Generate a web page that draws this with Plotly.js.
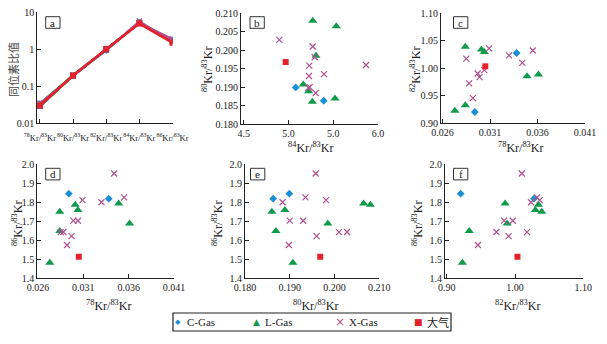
<!DOCTYPE html>
<html><head><meta charset="utf-8">
<script src="https://cdn.plot.ly/plotly-3.0.1.min.js"></script>
<style>html,body{margin:0;padding:0;background:#fff}#chart{width:607px;height:344px}</style>
</head><body><div id="chart"></div>
<script>
// ---- data (ratios relative to 83Kr) ----
const ratioCats = ['78Kr/83Kr','80Kr/83Kr','82Kr/83Kr','84Kr/83Kr','86Kr/83Kr'];
const ratioLabels = ['<sup>78</sup>Kr/<sup>83</sup>Kr','<sup>80</sup>Kr/<sup>83</sup>Kr','<sup>82</sup>Kr/<sup>83</sup>Kr','<sup>84</sup>Kr/<sup>83</sup>Kr','<sup>86</sup>Kr/<sup>83</sup>Kr'];

const cGas78 = [0.0294, 0.0338];
const cGas80 = [0.1899, 0.1863];
const cGas82 = [0.9205, 1.0278];
const cGas84 = [5.081, 5.394];
const cGas86 = [1.844, 1.818];

const lGas78 = [0.0273, 0.0284, 0.0361, 0.0284, 0.0304, 0.0301, 0.0349];
const lGas80 = [0.1907, 0.1869, 0.1985, 0.1860, 0.1889, 0.2080, 0.2065];
const lGas82 = [0.9230, 0.9330, 0.9885, 1.0392, 1.0298, 1.0344, 0.9855];
const lGas84 = [5.166, 5.520, 5.308, 5.266, 5.226, 5.271, 5.534];
const lGas86 = [1.481, 1.648, 1.688, 1.750, 1.759, 1.786, 1.793];

const xGas78 = [0.0344, 0.0355, 0.0309, 0.0330, 0.0299, 0.0304, 0.0285, 0.0288, 0.0297, 0.0292];
const xGas80 = [0.1958, 0.1935, 0.1981, 0.1884, 0.1900, 0.1930, 0.2010, 0.2028, 0.1960, 0.1898];
const xGas82 = [1.0100, 1.0323, 1.0362, 1.0235, 0.9840, 0.9968, 1.0175, 0.9727, 0.9906, 0.9457];
const xGas84 = [5.233, 5.397, 5.293, 5.304, 5.237, 5.229, 5.271, 4.898, 5.866, 5.222];
const xGas86 = [1.950, 1.825, 1.810, 1.799, 1.703, 1.702, 1.642, 1.643, 1.621, 1.575];

const air78 = [0.0305];
const air80 = [0.1968];
const air82 = [1.0036];
const air84 = [4.969];
const air86 = [1.513];

const bTickVals = [4.5, 5.0, 5.5, 6.0];
const bTickText = ['4.5', '5.0', '5.0', '6.0'];

// ---- styles ----
const W = 607, H = 344;
const px = v => v / W, py = v => 1 - v / H;
const SERIF = 'Liberation Serif, Times New Roman, serif';
const groups = [
  {name:'C-Gas', color:'#1b8fd6', sym:'diamond', size:6, d:[cGas78,cGas80,cGas82,cGas84,cGas86]},
  {name:'L-Gas', color:'#0f9a4a', sym:'triangle-up', size:8, d:[lGas78,lGas80,lGas82,lGas84,lGas86]},
  {name:'X-Gas', color:'#b0508e', sym:'x-thin', size:6, d:[xGas78,xGas80,xGas82,xGas84,xGas86]},
  {name:'大气', color:'#e62129', sym:'square', size:6, d:[air78,air80,air82,air84,air86]}
];
function mk(g, sz){
  const m = {symbol:g.sym, size:sz||g.size, color:g.color};
  if (g.sym === 'x-thin') m.line = {color:g.color, width:1.2};
  return m;
}

const traces = [];
// panel a lines (draw L, C, X, then air on top)
[1,0,2,3].forEach(gi => {
  const g = groups[gi];
  const n = g.d[0].length;
  for (let i = 0; i < n; i++) {
    traces.push({
      type:'scatter', mode:'lines+markers', xaxis:'x', yaxis:'y',
      x: ratioCats, y: g.d.map(arr => arr[i]), name:g.name, showlegend:false,
      line:{color:g.color, width: gi===3 ? 2.6 : 1.4},
      marker: mk(g, gi===3 ? 6 : 5), hoverinfo:'skip'
    });
  }
});
// scatter panels: [xIndex, yIndex, axis suffix]
const panels = [[3,1,'2'],[0,2,'3'],[0,4,'4'],[1,4,'5'],[2,4,'6']];
panels.forEach(([xi, yi, ax]) => {
  groups.forEach(g => {
    traces.push({
      type:'scatter', mode:'markers', xaxis:'x'+ax, yaxis:'y'+ax,
      x:g.d[xi], y:g.d[yi], name:g.name, showlegend:false,
      marker: mk(g), cliponaxis:false
    });
  });
});

const axBase = {
  showline:true, linecolor:'#222', linewidth:1, ticks:'inside', ticklen:4, tickcolor:'#222',
  showgrid:false, zeroline:false, mirror:false, tickangle:0,
  tickfont:{family:SERIF, size:10, color:'#222'}
};
const A = o => Object.assign({}, axBase, o);

const layout = {
  width:W, height:H, margin:{l:0,r:0,t:0,b:0}, paper_bgcolor:'#fff', plot_bgcolor:'#fff',
  showlegend:false, font:{family:SERIF, color:'#222'},
  xaxis: A({domain:[px(37.3), px(172.5)], anchor:'y', type:'category', categoryarray:ratioCats,
            range:[-0.08, 4.0], tickvals:ratioCats, ticktext:ratioLabels, tickangle:0, ticklabelstandoff:6,
            tickfont:{family:SERIF,size:8.5,color:'#222'}}),
  yaxis: A({domain:[py(123.3), py(12.3)], anchor:'x', type:'log', range:[-2, 1],
            tickvals:[0.01,0.1,1,10], ticktext:['0.01','0.1','1','10']}),
  xaxis2: A({domain:[px(241), px(378)], anchor:'y2', range:[4.47, 6.0], tickvals:bTickVals, ticktext:bTickText}),
  yaxis2: A({domain:[py(124), py(13.3)], anchor:'x2', range:[0.18, 0.21], dtick:0.005, tick0:0.18, tickformat:'.3f'}),
  xaxis3: A({domain:[px(441), px(585)], anchor:'y3', range:[0.02584, 0.041], tickvals:[0.026,0.031,0.036,0.041], tickformat:'.3f'}),
  yaxis3: A({domain:[py(123.3), py(13.3)], anchor:'x3', range:[0.9, 1.1], dtick:0.05, tick0:0.9, tickformat:'.2f'}),
  xaxis4: A({domain:[px(37.3), px(174)], anchor:'y4', range:[0.02592, 0.041], tickvals:[0.026,0.031,0.036,0.041], tickformat:'.3f'}),
  yaxis4: A({domain:[py(278.3), py(164)], anchor:'x4', range:[1.4, 2.0], dtick:0.1, tick0:1.4, tickformat:'.1f'}),
  xaxis5: A({domain:[px(245), px(379.3)], anchor:'y5', range:[0.18, 0.21], tickvals:[0.18,0.19,0.2,0.21], tickformat:'.3f'}),
  yaxis5: A({domain:[py(278.3), py(164)], anchor:'x5', range:[1.4, 2.0], dtick:0.1, tick0:1.4, tickformat:'.1f'}),
  xaxis6: A({domain:[px(445), px(583.3)], anchor:'y6', range:[0.8975, 1.10], tickvals:[0.9,1.0,1.1], tickformat:'.2f'}),
  yaxis6: A({domain:[py(278.3), py(164)], anchor:'x6', range:[1.4, 2.0], dtick:0.1, tick0:1.4, tickformat:'.1f'}),
  shapes: [], annotations: []
};

// panel label boxes
const labelBoxes = [['a',45.7,16.7],['b',250,16.7],['c',453.5,16.7],['d',45.7,168.3],['e',250.5,168.3],['f',453.5,168.3]];
labelBoxes.forEach(([t, x0, y0]) => {
  layout.shapes.push({type:'rect', xref:'paper', yref:'paper', x0:px(x0), x1:px(x0+14.3), y0:py(y0+11.6), y1:py(y0),
    line:{color:'#333', width:1}, fillcolor:'rgba(0,0,0,0)'});
  layout.annotations.push({xref:'paper', yref:'paper', x:px(x0+7.15), y:py(y0+5.8), text:t, showarrow:false,
    xanchor:'center', yanchor:'middle', font:{family:SERIF, size:11, color:'#222'}});
});

// axis titles
const sup = (a,b) => '<sup>'+a+'</sup>Kr/<sup>'+b+'</sup>Kr';
const titles = [
  ['同位素比值', 13, 70, -90, 'Noto Sans CJK SC', 11, '#444'],
  [sup(80,83), 207, 70, -90], [sup(84,83), 310, 147, 0],
  [sup(82,83), 415, 70, -90], [sup(78,83), 520, 147, 0],
  [sup(86,83), 17, 224, -90], [sup(78,83), 108, 305, 0],
  [sup(86,83), 217, 224, -90], [sup(80,83), 315, 305, 0],
  [sup(86,83), 417, 224, -90], [sup(82,83), 517, 305, 0]
];
titles.forEach(([t, x, y, ang, fam, sz, col]) => {
  layout.annotations.push({xref:'paper', yref:'paper', x:px(x), y:py(y), text:t, showarrow:false,
    textangle:ang, xanchor:'center', yanchor:'middle',
    font:{family:fam||SERIF, size:sz||12, color:col||'#222'}});
});

// legend (manual)
layout.shapes.push({type:'rect', xref:'paper', yref:'paper', x0:px(173), x1:px(451), y0:py(331), y1:py(313),
  line:{color:'#222', width:1.2}, fillcolor:'rgba(0,0,0,0)'});
const legItems = [[0,'◆',178,185,7],[1,'▲',256,263,9],[2,'×',340,347,12],[3,'■',418,425,9]];
legItems.forEach(([gi, s, sx, tx, ssz]) => {
  const g = groups[gi];
  layout.annotations.push({xref:'paper', yref:'paper', x:px(sx), y:py(322), text:s, showarrow:false,
    xanchor:'center', yanchor:'middle', font:{family:'DejaVu Sans', size:ssz, color:g.color}});
  layout.annotations.push({xref:'paper', yref:'paper', x:px(tx), y:py(322), text:g.name, showarrow:false,
    xanchor:'left', yanchor:'middle', font:{family: gi===3 ? 'Noto Sans CJK SC' : SERIF, size:11, color:'#222'}});
});

Plotly.newPlot('chart', traces, layout, {staticPlot:true, displayModeBar:false});
</script>
</body></html>
